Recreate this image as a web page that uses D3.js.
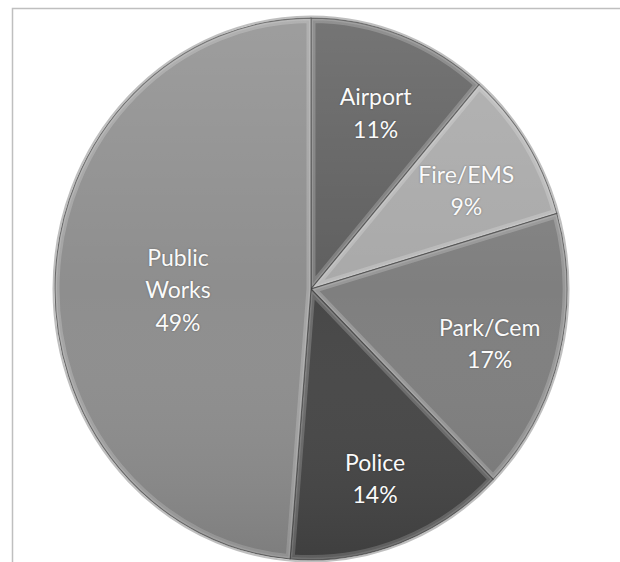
<!DOCTYPE html>
<html>
<head>
<meta charset="utf-8">
<script src="https://cdn.jsdelivr.net/npm/d3@7"></script>
<style>
  html, body { margin: 0; padding: 0; background: #fff; }
  svg { display: block; }
</style>
</head>
<body>
<div id="chart"></div>
<script>
// departments, clockwise from 12 o'clock
const departments = ["Airport", "Fire/EMS", "Park/Cem", "Police", "Public Works"];
const shares = [11.4, 9.1, 16.9, 13.9, 48.7];
const sliceColors = ["#5f5f5f", "#a9a9a9", "#7f7f7f", "#474747", "#8e8e8e"];

const width = 620;
const height = 562;
const cx = 311;     // pie centre
const cy = 289;
const radius = 256;
const ky = 1.058;   // picture is a little taller than wide

const svg = d3.select("#chart").append("svg")
    .attr("width", width)
    .attr("height", height)
    .attr("viewBox", [0, 0, width, height]);

const defs = svg.append("defs");

// light from the top, darker at the bottom
const shade = defs.append("linearGradient")
    .attr("id", "shade")
    .attr("x1", 0).attr("y1", 0).attr("x2", 0).attr("y2", 1);
shade.append("stop").attr("offset", "0%").attr("stop-color", "#fff").attr("stop-opacity", 0.14);
shade.append("stop").attr("offset", "50%").attr("stop-color", "#fff").attr("stop-opacity", 0);
shade.append("stop").attr("offset", "100%").attr("stop-color", "#000").attr("stop-opacity", 0.12);

// frame (open to the right and bottom)
svg.append("rect")
    .attr("x", 12.5)
    .attr("y", 8.5)
    .attr("width", 700)
    .attr("height", 700)
    .attr("fill", "none")
    .attr("stroke", "#bfbfbf")
    .attr("stroke-width", 1.5);

const pie = d3.pie().sort(null).value(d => d.value);
const data = departments.map((name, i) => ({ name: name, value: shares[i], color: sliceColors[i] }));
const arcs = pie(data);
const total = d3.sum(shares);

const arc = d3.arc().innerRadius(0).outerRadius(radius);

const g = svg.append("g")
    .attr("transform", `translate(${cx},${cy}) scale(1,${ky})`);

// soft shadow round the rim
g.append("circle")
    .attr("r", radius + 1.5)
    .attr("fill", "none")
    .attr("stroke", "#000")
    .attr("stroke-opacity", 0.25)
    .attr("stroke-width", 2);

arcs.forEach((a, i) => {
    defs.append("clipPath")
        .attr("id", "clip" + i)
        .append("path")
        .attr("d", arc(a));
});

const slices = g.selectAll("g.slice")
    .data(arcs)
    .join("g")
    .attr("class", "slice");

slices.append("path")
    .attr("d", arc)
    .attr("fill", d => d.data.color);

// bevel: light inner edge and a dark outer line on every slice
slices.append("path")
    .attr("d", arc)
    .attr("fill", "none")
    .attr("clip-path", (d, i) => `url(#clip${i})`)
    .attr("stroke", "#fff")
    .attr("stroke-opacity", 0.2)
    .attr("stroke-width", 9)
    .attr("stroke-linejoin", "round");

slices.append("path")
    .attr("d", arc)
    .attr("fill", "none")
    .attr("clip-path", (d, i) => `url(#clip${i})`)
    .attr("stroke", "#fff")
    .attr("stroke-opacity", 0.14)
    .attr("stroke-width", 4)
    .attr("stroke-linejoin", "round");

slices.append("path")
    .attr("d", arc)
    .attr("fill", "none")
    .attr("stroke", "#3a3a3a")
    .attr("stroke-opacity", 0.7)
    .attr("stroke-width", 1);

g.append("circle")
    .attr("r", radius)
    .attr("fill", "url(#shade)");

// labels
const lineHeight = 32.5;
const labels = svg.append("g")
    .attr("font-family", "Lato, 'Open Sans', sans-serif")
    .attr("font-size", 23)
    .attr("fill", "#fafafa")
    .attr("text-anchor", "middle");

arcs.forEach(a => {
    const share = a.data.value / total;
    const lr = share > 0.4 ? radius * 0.52 : radius * 0.72;
    const [lx, ly] = d3.arc().innerRadius(lr).outerRadius(lr).centroid(a);
    const lines = a.data.name.split(" ").concat([Math.round(share * 100) + "%"]);
    const t = labels.append("text")
        .attr("x", cx + lx)
        .attr("y", cy + ly * ky)
        .style("text-shadow", "0 0 2px rgba(0,0,0,0.35)");
    lines.forEach((s, j) => {
        t.append("tspan")
            .attr("x", cx + lx)
            .attr("dy", j === 0 ? ((-(lines.length - 1) / 2) * lineHeight + 15) : lineHeight)
            .text(s);
    });
});
</script>
</body>
</html>
